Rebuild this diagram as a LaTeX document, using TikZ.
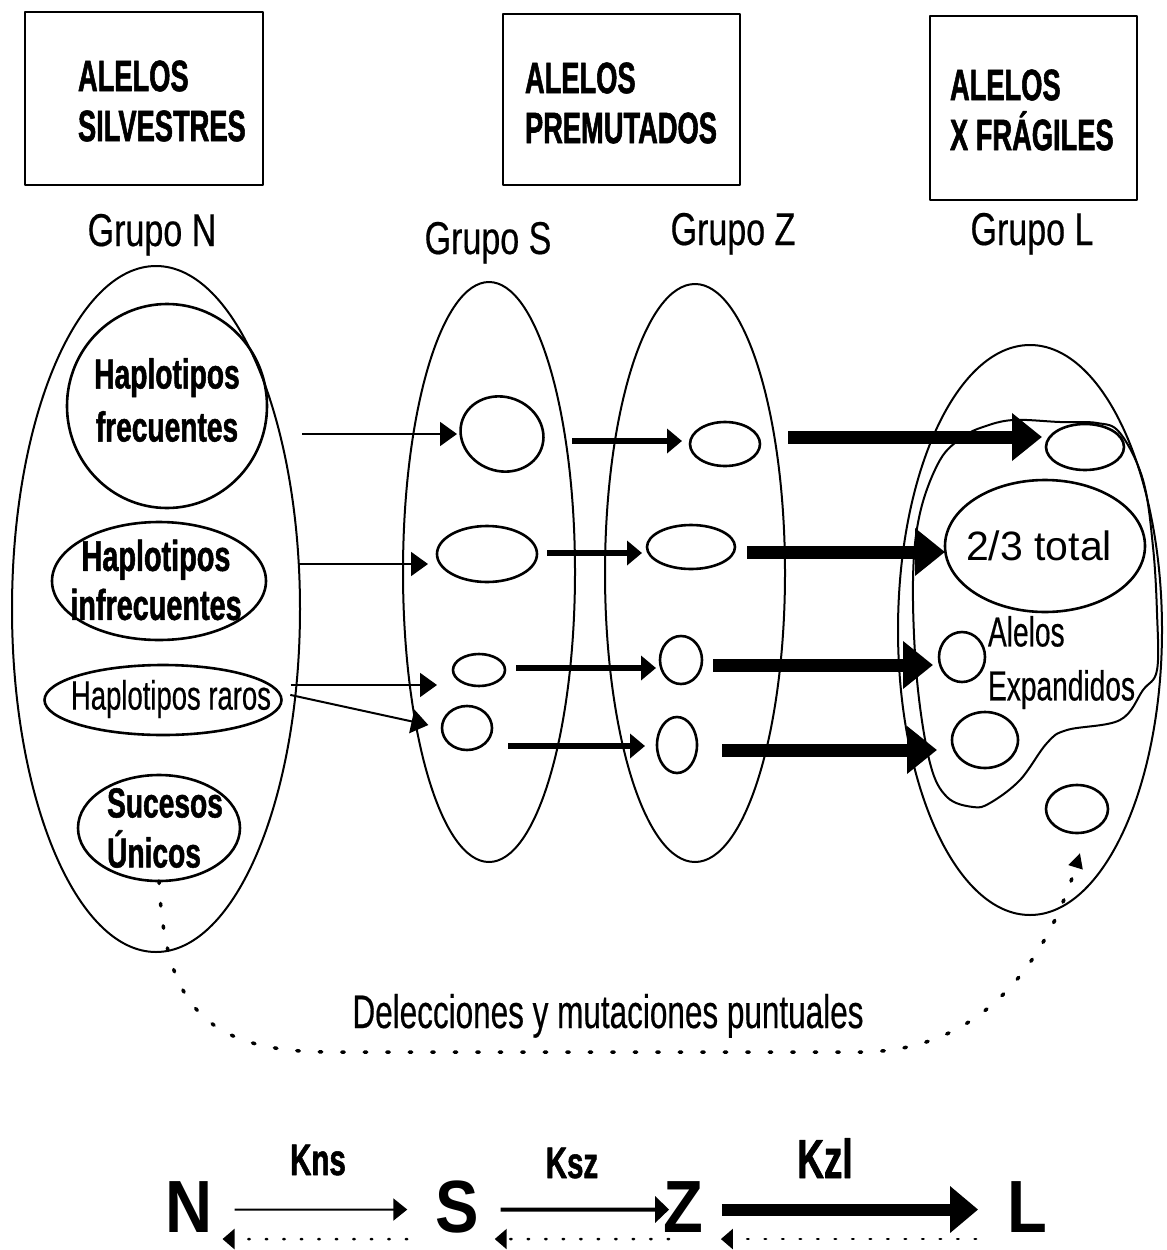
\documentclass[tikz,border=0pt]{standalone}
\usepackage{fontspec}
\setmainfont{Liberation Sans}
\newfontfamily\narrow[FakeStretch=0.67, UprightFeatures={FakeBold=0.4}, BoldFeatures={FakeBold=1.2}]{Liberation Sans}
\newfontfamily\tnarrow[FakeStretch=0.62, BoldFeatures={FakeBold=1.2}]{Liberation Sans}
\newfontfamily\gnarrow[FakeStretch=0.74, FakeBold=0.4]{Liberation Sans}
\newfontfamily\semi[FakeStretch=0.88]{Liberation Sans}
\usetikzlibrary{shapes.geometric,arrows.meta}

\begin{document}
\begin{tikzpicture}[x=1pt, y=-1pt, line join=round]

\tikzstyle{every node}=[inner sep=0pt, outer sep=0pt]
\tikzstyle{titlebox}=[draw, line width=2pt, rectangle]
\tikzstyle{title}=[anchor=west, align=left, font=\tnarrow\bfseries\fontsize{44}{50}\selectfont]
\tikzstyle{grp}=[anchor=base, font=\gnarrow\fontsize{46}{50}\selectfont]
\tikzstyle{pool}=[draw, ellipse, line width=2pt]
\tikzstyle{cell}=[draw, ellipse, line width=2.6pt]
\tikzstyle{celltext}=[align=center, font=\narrow\bfseries\fontsize{42}{53}\selectfont]
\tikzstyle{thinarr}=[line width=2pt, -{Triangle[length=17pt, width=24pt]}]
\tikzstyle{medarr}=[line width=5.5pt, -{Triangle[length=15pt, width=24pt]}]
\tikzstyle{bigarr}=[line width=13pt, -{Triangle[length=30pt, width=46pt]}]
\tikzstyle{dots}=[line width=3.5pt, line cap=round, dash pattern=on 2.5pt off 20pt]
\tikzstyle{back}=[line width=2.5pt, line cap=round, dash pattern=on 1.5pt off 16pt, -{Triangle[length=12pt, width=20pt]}]
\tikzstyle{letter}=[anchor=base, font=\semi\bfseries\fontsize{74}{76}\selectfont]
\tikzstyle{rate}=[anchor=base, font=\narrow\bfseries\fontsize{44}{48}\selectfont]

\useasboundingbox (0,0) rectangle (1167,1250);
\fill[white] (0,0) rectangle (1167,1250);

% boxes on top
\node[titlebox, minimum width=238, minimum height=173] (boxN) at (144,98.5) {};
\node[title] (titN) at (78,101) {ALELOS\\SILVESTRES};
\node[titlebox, minimum width=237, minimum height=171] (boxS) at (621.5,99.5) {};
\node[title] (titS) at (525,103) {ALELOS\\PREMUTADOS};
\node[titlebox, minimum width=207, minimum height=184] (boxL) at (1033.5,108) {};
\node[title] (titL) at (950,110) {ALELOS\\X FRÁGILES};

\node[grp] (grpN) at (152,246) {Grupo N};
\node[grp] (grpS) at (488,254) {Grupo S};
\node[grp] (grpZ) at (733,245) {Grupo Z};
\node[grp] (grpL) at (1032,245) {Grupo L};

% the four pools
\node[pool, minimum width=288, minimum height=686] (poolN) at (156,609) {};
\node[pool, minimum width=172, minimum height=580] (poolS) at (489,572) {};
\node[pool, minimum width=180, minimum height=578] (poolZ) at (695,573) {};
\node[pool, minimum width=264, minimum height=570] (poolL) at (1030,630) {};

% group N
\node[cell, minimum width=200, minimum height=204] (hfre) at (167,406) {};
\node[celltext] (hfre-t) at (167,400) {Haplotipos\\frecuentes};
\node[cell, minimum width=214, minimum height=118] (hinf) at (159,581) {};
\node[celltext, font=\narrow\bfseries\fontsize{43}{49}\selectfont] (hinf-t) at (156,580) {Haplotipos\\infrecuentes};
\node[cell, minimum width=237, minimum height=70] (hrar) at (163,700) {};
\node[font=\narrow\fontsize{41}{44}\selectfont] (hrar-t) at (171,699) {Haplotipos raros};
\node[cell, minimum width=162, minimum height=106] (suc) at (159,828) {};
\node[celltext, align=left, font=\narrow\bfseries\fontsize{42}{50}\selectfont] (suc-t) at (165,828) {Sucesos\\Únicos};

% group S
\node[cell, minimum width=84, minimum height=74, rotate=-20] (s1) at (502,434) {};
\node[cell, minimum width=100, minimum height=56] (s2) at (487,554) {};
\node[cell, minimum width=52, minimum height=32] (s3) at (479,670) {};
\node[cell, minimum width=50, minimum height=44] (s4) at (467,728) {};

% group Z
\node[cell, minimum width=70, minimum height=44] (z1) at (725,444) {};
\node[cell, minimum width=88, minimum height=44] (z2) at (691,547) {};
\node[cell, minimum width=42, minimum height=48] (z3) at (681,660) {};
\node[cell, minimum width=40, minimum height=56] (z4) at (677,745) {};

% group L
\draw[line width=2pt] plot[smooth cycle, tension=0.6] coordinates {
  (983,427) (1013,420) (1060,422) (1097,423) (1120,433) (1143,480)
  (1153,547) (1157,613) (1157,670) (1143,690) (1120,720) (1067,730)
  (1047,743) (1020,780) (990,803) (973,807) (947,797) (930,763)
  (917,680) (913,580) (920,513) (940,460) (963,437)};
\node[cell, minimum width=78, minimum height=46] (l1) at (1085,447) {};
\node[cell, minimum width=200, minimum height=132] (l2) at (1045,546) {};
\node[font=\fontsize{41}{46}\selectfont] (l2-t) at (1039,546) {2/3 total};
\node[cell, minimum width=46, minimum height=50] (l3) at (962,657) {};
\node[anchor=north west, align=left, font=\narrow\fontsize{42}{54}\selectfont] (exp) at (988,616) {Alelos\\Expandidos};
\node[cell, minimum width=66, minimum height=56] (l4) at (985,740) {};
\node[cell, minimum width=62, minimum height=48] (l5) at (1077,809) {};

% N -> S
\draw[thinarr, shorten <=35pt, shorten >=45pt] (hfre.east |- s1.center) -- (s1.center);
\draw[thinarr, shorten <=32pt, shorten >=9pt] ([yshift=17]hinf.east) -- ([yshift=-10]s2.west);
\draw[thinarr, shorten <=9pt, shorten >=16pt] ([yshift=15]hrar.east) -- ([yshift=-15]s3.west);
\draw[thinarr, shorten <=9pt, shorten >=14pt] ([yshift=7]hrar.east) -- (s4.west);

% S -> Z
\draw[medarr, shorten <=70pt, shorten >=8pt] ([yshift=3]s1.center |- z1.west) -- ([yshift=3]z1.west);
\draw[medarr, shorten <=10pt, shorten >=5pt] ([yshift=1]s2.east) -- ([yshift=-6]z2.west);
\draw[medarr, shorten <=11pt, shorten >=4pt] ([yshift=2]s3.east) -- ([yshift=-8]z3.west);
\draw[medarr, shorten <=16pt, shorten >=12pt] ([yshift=-18]s4.east) -- ([yshift=-1]z4.west);

% Z -> L
\draw[bigarr, shorten <=28pt, shorten >=4pt] ([yshift=7]z1.east) -- ([yshift=10]l1.west);
\draw[bigarr, shorten <=12pt] ([yshift=-5]z2.east) -- ([yshift=-6]l2.west);
\draw[bigarr, shorten <=11pt, shorten >=6pt] ([yshift=-5]z3.east) -- ([yshift=-8]l3.west);
\draw[bigarr, shorten <=25pt, shorten >=15pt] ([yshift=-5]z4.east) -- ([yshift=-10]l4.west);

% deletions and point mutations
\draw[dots, -{Triangle[length=15pt, width=14pt]}] (suc.south)
  .. controls (165,1000) and (200,1052) .. (330,1052) -- (860,1052)
  .. controls (990,1052) and (1050,950) .. (1080,853);
\node[anchor=base, font=\narrow\fontsize{47}{50}\selectfont] (del) at (608,1028) {Delecciones y mutaciones puntuales};

% rates
\node[letter] (nN) at (189,1232) {N};
\node[letter] (nS) at (457,1232) {S};
\node[letter] (nZ) at (683,1232) {Z};
\node[letter] (nL) at (1027,1232) {L};
\node[rate] (kns) at (318,1175) {Kns};
\node[rate] (ksz) at (572,1178) {Ksz};
\node[rate, font=\narrow\bfseries\fontsize{55}{58}\selectfont] (kzl) at (825,1178) {Kzl};

\draw[line width=2pt, -{Triangle[length=14pt, width=22pt]}, shorten <=22pt, shorten >=28pt] ([yshift=-3]nN.east) -- ([yshift=-3]nS.west);
\draw[line width=4pt, -{Triangle[length=14pt, width=26pt]}, shorten <=22pt, shorten >=-6pt] ([yshift=-3]nS.east) -- ([yshift=-3]nZ.west);
\draw[line width=12pt, -{Triangle[length=28pt, width=45pt]}, shorten <=19pt, shorten >=29pt] ([yshift=-3]nZ.east) -- ([yshift=-3]nL.west);

\draw[back, shorten <=28pt, shorten >=10pt] ([yshift=-32.5]nS.west) -- ([yshift=-32.5]nN.east);
\draw[back, shorten <=-6pt, shorten >=16pt] ([yshift=-32.5]nZ.west) -- ([yshift=-32.5]nS.east);
\draw[back, shorten <=31pt, shorten >=18pt] ([yshift=-32.5]nL.west) -- ([yshift=-32.5]nZ.east);

\end{tikzpicture}
\end{document}
